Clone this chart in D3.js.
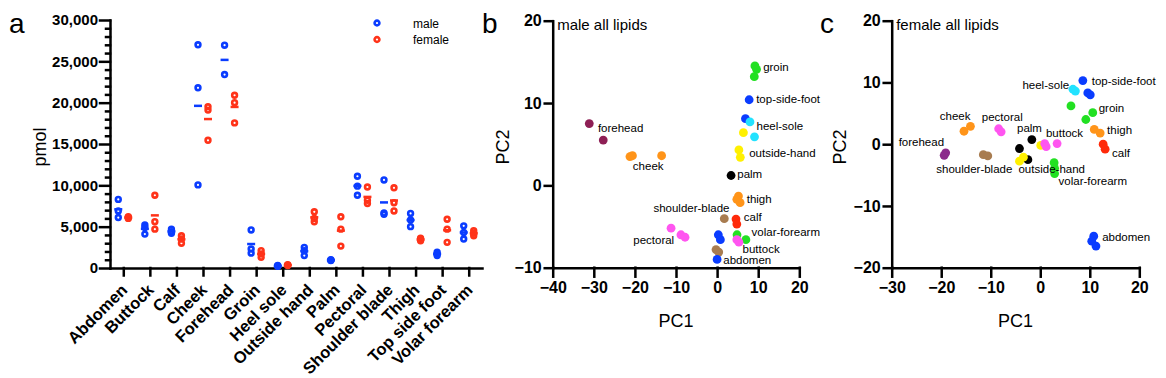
<!DOCTYPE html>
<html>
<head>
<meta charset="utf-8">
<script src="https://cdn.jsdelivr.net/npm/d3@7"></script>
<style>
  body { margin: 0; background: #fff; }
  svg { display: block; font-family: Arial, "Liberation Sans", sans-serif; }
  .axis path, .axis line { stroke: #000; stroke-width: 2.5; stroke-linecap: square; }
  .axis text { font-weight: bold; fill: #000; }
</style>
</head>
<body>
<svg id="chart" width="1166" height="378"></svg>
<script>
// ---------- panel a data ----------
const categories = ['Abdomen', 'Buttock', 'Calf', 'Cheek', 'Forehead', 'Groin', 'Heel sole',
  'Outside hand', 'Palm', 'Pectoral', 'Shoulder blade', 'Thigh', 'Top side foot', 'Volar forearm'];

const maleValues = [
  [8300, 6900, 6100], [5200, 4900, 4100], [4700, 4400, 4200], [27000, 21800, 10050],
  [26950, 23400], [4600, 2300, 1800], [300, 250, 200], [2500, 2100, 1500],
  [1000, 950, 900], [11100, 9900, 8800], [10650, 6650, 6500], [6600, 5800, 5000],
  [1900, 1700, 1500], [5100, 4300, 3500]
];
const femaleValues = [
  [6200, 6100, 6000], [8800, 5600, 4700], [3900, 3500, 3000], [19500, 19100, 15450],
  [20900, 20000, 17550], [2100, 1700, 1300], [400, 350, 300], [6800, 6000, 5600],
  [6200, 4700, 2650], [9800, 8200, 7800], [9700, 7900, 6900], [3600, 3450, 3300],
  [5900, 4700, 3100], [4500, 4200, 3900]
];
const sexLabels = ['male', 'female'];

// ---------- panels b / c data ----------
const regions = ['abdomen', 'buttock', 'calf', 'cheek', 'forehead', 'groin', 'heel-sole',
  'outside-hand', 'palm', 'pectoral', 'shoulder-blade', 'thigh', 'top-side-foot', 'volar-forearm'];

// [region, PC1, PC2] in drawing order
const malePC = [
  ['forehead', -31.1, 7.5], ['forehead', -27.7, 5.5],
  ['cheek', -21.2, 3.5], ['cheek', -20.6, 3.6], ['cheek', -13.5, 3.6],
  ['groin', 9.2, 14.5], ['groin', 9.6, 14.1], ['groin', 9.05, 13.2],
  ['top-side-foot', 7.8, 10.4], ['top-side-foot', 6.9, 8.1],
  ['heel-sole', 8.0, 7.7], ['heel-sole', 9.1, 5.9],
  ['outside-hand', 6.4, 6.4], ['outside-hand', 5.3, 4.3], ['outside-hand', 5.65, 3.4],
  ['palm', 3.4, 1.2],
  ['thigh', 5.2, -1.3], ['thigh', 4.8, -1.7], ['thigh', 5.6, -2.1],
  ['shoulder-blade', 1.75, -4.05], ['shoulder-blade', -0.26, -7.8], ['shoulder-blade', 0.4, -8.1],
  ['calf', 4.6, -4.1], ['calf', 4.8, -4.7],
  ['pectoral', -11.2, -5.2], ['pectoral', -8.8, -6.0], ['pectoral', -7.8, -6.3],
  ['abdomen', 0.3, -6.0], ['abdomen', 0.8, -6.6], ['abdomen', 0, -9.0],
  ['volar-forearm', 4.85, -6.0], ['volar-forearm', 7.0, -6.6],
  ['buttock', 4.8, -6.6], ['buttock', 5.3, -6.9]
];
// label anchors (PC units)
const maleLabels = [
  ['groin', 11.2, 13.9], ['top-side-foot', 9.5, 10.0], ['heel-sole', 9.6, 6.7],
  ['outside-hand', 7.8, 3.5], ['palm', 4.9, 0.9], ['forehead', -29.0, 6.5],
  ['cheek', -20.5, 1.9], ['thigh', 7.2, -2.1], ['shoulder-blade', -15.5, -3.2],
  ['calf', 6.5, -4.3], ['pectoral', -20.4, -7.1], ['abdomen', 1.5, -9.5],
  ['volar-forearm', 8.4, -6.2], ['buttock', 6.2, -8.2]
];

const femalePC = [
  ['top-side-foot', 8.6, 10.3], ['top-side-foot', 9.6, 8.3], ['top-side-foot', 10.1, 8.0],
  ['heel-sole', 6.6, 8.9], ['heel-sole', 7.1, 8.6],
  ['groin', 6.2, 6.2], ['groin', 10.6, 5.1], ['groin', 9.2, 4.0],
  ['thigh', 10.9, 2.4], ['thigh', 12.1, 1.8],
  ['calf', 12.7, 0], ['calf', 13.1, -0.8],
  ['cheek', -15.4, 2.1], ['cheek', -14.1, 2.9],
  ['pectoral', -8.4, 2.5], ['pectoral', -7.9, 2.0],
  ['palm', -1.7, 0.75], ['palm', -4.2, -0.7], ['palm', -2.5, -2.5],
  ['outside-hand', -3.4, -2.1], ['outside-hand', -4.2, -2.75], ['outside-hand', 0.1, -0.2],
  ['buttock', 0.9, 0.1], ['buttock', 1.2, -0.4], ['buttock', 3.4, 0.1],
  ['forehead', -19.1, -1.4], ['forehead', -19.4, -1.8],
  ['shoulder-blade', -11.5, -1.7], ['shoulder-blade', -10.6, -1.9],
  ['volar-forearm', 2.8, -3.0], ['volar-forearm', 2.9, -3.9], ['volar-forearm', 2.9, -4.75],
  ['abdomen', 10.8, -14.9], ['abdomen', 10.4, -15.7], ['abdomen', 11.25, -16.5]
];
const femaleLabels = [
  ['top-side-foot', 10.4, 9.6], ['heel-sole', -3.6, 8.9], ['groin', 11.8, 5.2],
  ['thigh', 13.5, 1.7], ['calf', 14.5, -2.1], ['cheek', -20.3, 3.9],
  ['pectoral', -11.8, 3.8], ['palm', -4.7, 2.0], ['buttock', 1.15, 1.2],
  ['forehead', -28.6, -0.3], ['shoulder-blade', -21.0, -4.6], ['outside-hand', -4.4, -4.6],
  ['volar-forearm', 3.7, -6.6], ['abdomen', 12.5, -15.7]
];

const regionPalette = ['#0a3cff', '#ff55f0', '#ff2a0a', '#ff9419', '#8e1f55', '#22e022', '#22e2ff',
  '#fff000', '#000000', '#ff55f0', '#a87c50', '#ff9419', '#0a3cff', '#22e022'];

const svg = d3.select('#chart');
const maleColor = '#0a3cff';
const femaleColor = '#ff3319';

//************************************************
//**Panel a: pmol by body site********************
//************************************************
const ay = d3.scaleLinear().domain([0, 30000]).range([268, 20]);
const ax = d3.scalePoint().domain(categories).range([110, 482]).padding(0.5);
const sexColor = d3.scaleOrdinal().domain(sexLabels).range([maleColor, femaleColor]);
const sexShift = d3.scaleOrdinal().domain(sexLabels).range([-5, 5]);

const panelA = svg.append('g');

panelA.append('g')
  .attr('class', 'axis')
  .attr('transform', 'translate(110,0)')
  .call(d3.axisLeft(ay).tickValues(d3.range(0, 30001, 1000).filter(v => v % 5000)).tickSize(4).tickFormat(''))
  .call(g => g.select('.domain').remove());

panelA.append('g')
  .attr('class', 'axis')
  .attr('transform', 'translate(110,0)')
  .call(d3.axisLeft(ay).tickValues(d3.range(0, 30001, 5000)).tickFormat(d3.format(','))
    .tickSize(10).tickSizeOuter(0).tickPadding(2))
  .attr('font-size', 15).attr('font-family', null);

panelA.append('g')
  .attr('class', 'axis')
  .attr('transform', 'translate(0,268)')
  .call(d3.axisBottom(ax).tickSize(7.5).tickSizeOuter(0).tickFormat(''));

panelA.selectAll('.cat-label')
  .data(categories)
  .enter()
  .append('text')
    .attr('class', 'cat-label')
    .attr('transform', d => `translate(${ax(d) + 5},291) rotate(-45)`)
    .attr('text-anchor', 'end')
    .attr('font-size', 16.5)
    .attr('font-weight', 'bold')
    .text(d => d);

// flatten points
const ringData = [];
categories.forEach((c, i) => {
  maleValues[i].forEach(v => ringData.push({ cat: c, sex: 'male', value: v }));
  femaleValues[i].forEach(v => ringData.push({ cat: c, sex: 'female', value: v }));
});
const meanData = [];
categories.forEach((c, i) => {
  meanData.push({ cat: c, sex: 'male', value: d3.mean(maleValues[i]) });
  meanData.push({ cat: c, sex: 'female', value: d3.mean(femaleValues[i]) });
});

panelA.selectAll('.mean')
  .data(meanData)
  .enter()
  .append('line')
    .attr('x1', d => ax(d.cat) + sexShift(d.sex) - 4)
    .attr('x2', d => ax(d.cat) + sexShift(d.sex) + 4)
    .attr('y1', d => ay(d.value))
    .attr('y2', d => ay(d.value))
    .attr('stroke', d => sexColor(d.sex))
    .attr('stroke-width', 2.5);

panelA.selectAll('.ring')
  .data(ringData)
  .enter()
  .append('circle')
    .attr('cx', d => ax(d.cat) + sexShift(d.sex))
    .attr('cy', d => ay(d.value))
    .attr('r', 2.4)
    .attr('fill', 'none')
    .attr('stroke', d => sexColor(d.sex))
    .attr('stroke-width', 2.6);

// legend
const legend = panelA.selectAll('.legend')
  .data(sexLabels)
  .enter()
  .append('g')
    .attr('transform', (d, i) => `translate(377,${23 + i * 16.5})`);
legend.append('circle')
  .attr('r', 2.4).attr('fill', 'none')
  .attr('stroke', d => sexColor(d)).attr('stroke-width', 2.6);
legend.append('text')
  .attr('x', 36).attr('y', 4.5)
  .attr('font-size', 12)
  .text(d => d);

panelA.append('text')
  .attr('transform', 'translate(46,147) rotate(-90)')
  .attr('text-anchor', 'middle')
  .attr('font-size', 18)
  .text('pmol');

//************************************************
//**Panels b and c: PCA score plots***************
//************************************************
function drawPCA(opts) {
  const g = svg.append('g');
  const x = d3.scaleLinear().domain(opts.xDomain).range(opts.xRange);
  const y = d3.scaleLinear().domain(opts.yDomain).range([267.7, 20.7]);
  const color = d3.scaleOrdinal().domain(regions).range(opts.palette);

  g.append('g')
    .attr('class', 'axis')
    .attr('transform', `translate(${opts.xRange[0]},0)`)
    .call(d3.axisLeft(y).tickValues(d3.range(opts.yDomain[0], opts.yDomain[1] + 1, 10))
      .tickSize(8).tickSizeOuter(0).tickPadding(3))
    .attr('font-size', 16).attr('font-family', null);

  g.append('g')
    .attr('class', 'axis')
    .attr('transform', 'translate(0,267.7)')
    .call(d3.axisBottom(x).tickValues(d3.range(opts.xDomain[0], opts.xDomain[1] + 1, 10))
      .tickSize(9).tickSizeOuter(0).tickPadding(5))
    .attr('font-size', 16).attr('font-family', null);

  g.selectAll('.pt')
    .data(opts.points)
    .enter()
    .append('circle')
      .attr('cx', d => x(d[1]))
      .attr('cy', d => y(d[2]))
      .attr('r', 4.4)
      .attr('fill', d => color(d[0]));

  g.selectAll('.lbl')
    .data(opts.labels)
    .enter()
    .append('text')
      .attr('x', d => x(d[1]))
      .attr('y', d => y(d[2]))
      .attr('font-size', 11.5)
      .text(d => d[0]);

  g.append('text')
    .attr('x', opts.xRange[0] + 4.5).attr('y', 30)
    .attr('font-size', 15)
    .text(opts.title);

  g.append('text')
    .attr('x', (opts.xRange[0] + opts.xRange[1]) / 2).attr('y', 327)
    .attr('text-anchor', 'middle').attr('font-size', 18)
    .text('PC1');

  g.append('text')
    .attr('transform', `translate(${opts.pc2X},147) rotate(-90)`)
    .attr('text-anchor', 'middle').attr('font-size', 18)
    .text('PC2');

  g.append('text')
    .attr('x', opts.letterX).attr('y', 33)
    .attr('font-size', 28)
    .text(opts.letter);
}

drawPCA({
  xDomain: [-40, 20], yDomain: [-10, 20], xRange: [552.7, 799.3],
  points: malePC, labels: maleLabels, palette: regionPalette,
  title: 'male all lipids', pc2X: 509, letter: 'b', letterX: 482
});

const femalePalette = regionPalette.map((c, i) => regions[i] === 'forehead' ? '#8c2a8c' : c);
drawPCA({
  xDomain: [-30, 20], yDomain: [-20, 20], xRange: [891.7, 1139.3],
  points: femalePC, labels: femaleLabels, palette: femalePalette,
  title: 'female all lipids', pc2X: 846, letter: 'c', letterX: 820
});

svg.append('text')
  .attr('x', 9).attr('y', 33)
  .attr('font-size', 28)
  .text('a');
</script>
</body>
</html>
